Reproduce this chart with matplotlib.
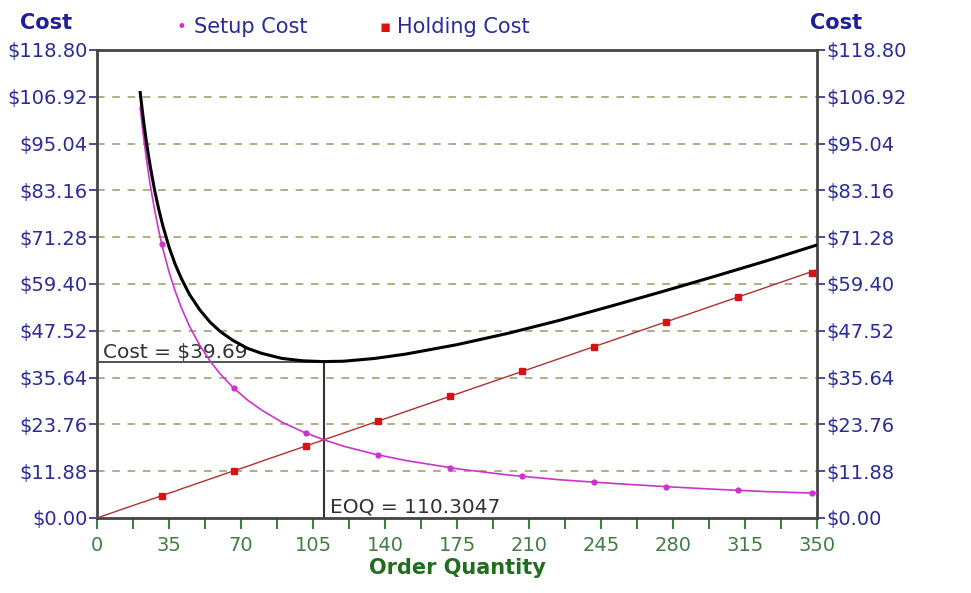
import matplotlib.pyplot as plt
from matplotlib.ticker import MultipleLocator, FixedLocator

# order quantity samples and costs
qty = [21, 22, 23, 24, 25, 26, 28, 30, 32, 35, 38, 41, 45, 50, 55, 60, 66, 73,
       80, 90, 100, 110, 120, 135, 150, 175, 200, 225, 250, 275, 300, 325, 350]
setup_cost = [104.2, 99.5, 95.2, 91.2, 87.6, 84.2, 78.2, 73.0, 68.4, 62.5,
              57.6, 53.4, 48.6, 43.8, 39.8, 36.5, 33.2, 30.0, 27.4, 24.3,
              21.9, 19.9, 18.2, 16.2, 14.6, 12.5, 10.9, 9.7, 8.8, 8.0, 7.3,
              6.7, 6.3]
holding_cost = [3.8, 4.0, 4.1, 4.3, 4.5, 4.7, 5.0, 5.4, 5.8, 6.3, 6.8, 7.4,
                8.1, 9.0, 9.9, 10.8, 11.9, 13.1, 14.4, 16.2, 18.0, 19.8, 21.6,
                24.3, 27.0, 31.5, 36.0, 40.5, 45.0, 49.5, 54.0, 58.5, 63.0]
total_cost = [s + h for s, h in zip(setup_cost, holding_cost)]

# marker points
mark_qty = [31.5, 66.5, 101.5, 136.5, 171.5, 206.5, 241.5, 276.5, 311.5, 347.5]
mark_setup = [69.5, 32.9, 21.6, 16.0, 12.8, 10.6, 9.1, 7.9, 7.0, 6.3]
mark_holding = [5.7, 12.0, 18.3, 24.6, 30.9, 37.2, 43.4, 49.7, 56.0, 62.3]

eoq = 110.3047
min_cost = 39.69

y_ticks = [0.00, 11.88, 23.76, 35.64, 47.52, 59.40, 71.28, 83.16, 95.04, 106.92, 118.80]
x_ticks = [0, 35, 70, 105, 140, 175, 210, 245, 280, 315, 350]

navy = '#2b2b99'
green = '#3f7f3f'
magenta = '#cc33cc'

plt.rcParams['font.family'] = ['DejaVu Sans']

fig = plt.figure(figsize=(9.71, 5.93), dpi=100)
ax = fig.add_axes([0.0999, 0.1265, 0.7415, 0.7892])

for y in y_ticks[1:-1]:
    ax.axhline(y, color='#9a9a66', lw=1.1, ls=(0, (5, 5)), zorder=1)

ax.plot([0, eoq], [min_cost, min_cost], color='#333333', lw=1.2, zorder=2)
ax.plot([eoq, eoq], [0, min_cost], color='#333333', lw=1.5, zorder=2)

ax.plot([0] + qty, [0] + holding_cost, color='#b03030', lw=1.0, zorder=3)
ax.plot(mark_qty, mark_holding, ls='none', marker='s', ms=5, color='#dd1111', zorder=4)
ax.plot(qty, setup_cost, color=magenta, lw=1.2, zorder=3)
ax.plot(mark_qty, mark_setup, ls='none', marker='o', ms=3.5, color=magenta, zorder=4)
ax.plot(qty, total_cost, color='black', lw=2.2, zorder=5)

ax.text(3, min_cost + 0.8, 'Cost = $39.69', fontsize=14.5, color='#333333', zorder=2)
ax.text(eoq + 3, 1.3, 'EOQ = 110.3047', fontsize=14.5, color='#333333')

ax.set_xlim(0, 350)
ax.set_ylim(0, 118.8)
ax.xaxis.set_major_locator(FixedLocator(x_ticks))
ax.xaxis.set_minor_locator(MultipleLocator(17.5))
ax.yaxis.set_major_locator(FixedLocator(y_ticks))
ax.set_yticklabels(['$%.2f' % v for v in y_ticks])
ax.tick_params(axis='y', which='both', direction='out', length=6, width=1.2,
               colors=navy, labelsize=14, left=True, right=True,
               labelleft=True, labelright=True, pad=1)
ax.tick_params(axis='x', which='both', direction='out', length=8, width=1.5,
               colors=green, labelsize=14, pad=5)
for s in ax.spines.values():
    s.set_color('#444444')
    s.set_linewidth(2)

ax.set_xlabel('Order Quantity', fontsize=15, fontweight='bold', color='#1e6e1e', labelpad=2)

fig.text(0.021, 0.962, 'Cost', fontsize=15, fontweight='bold', color='#1f1f99', va='center')
fig.text(0.834, 0.962, 'Cost', fontsize=15, fontweight='bold', color='#1f1f99', va='center')
fig.text(0.182, 0.955, '•', fontsize=12, color=magenta, va='center')
fig.text(0.200, 0.955, 'Setup Cost', fontsize=15, color=navy, va='center')
fig.text(0.391, 0.955, '▪', fontsize=12, color='#dd1111', va='center')
fig.text(0.409, 0.955, 'Holding Cost', fontsize=15, color=navy, va='center')

fig.savefig('out.png', dpi=100)
